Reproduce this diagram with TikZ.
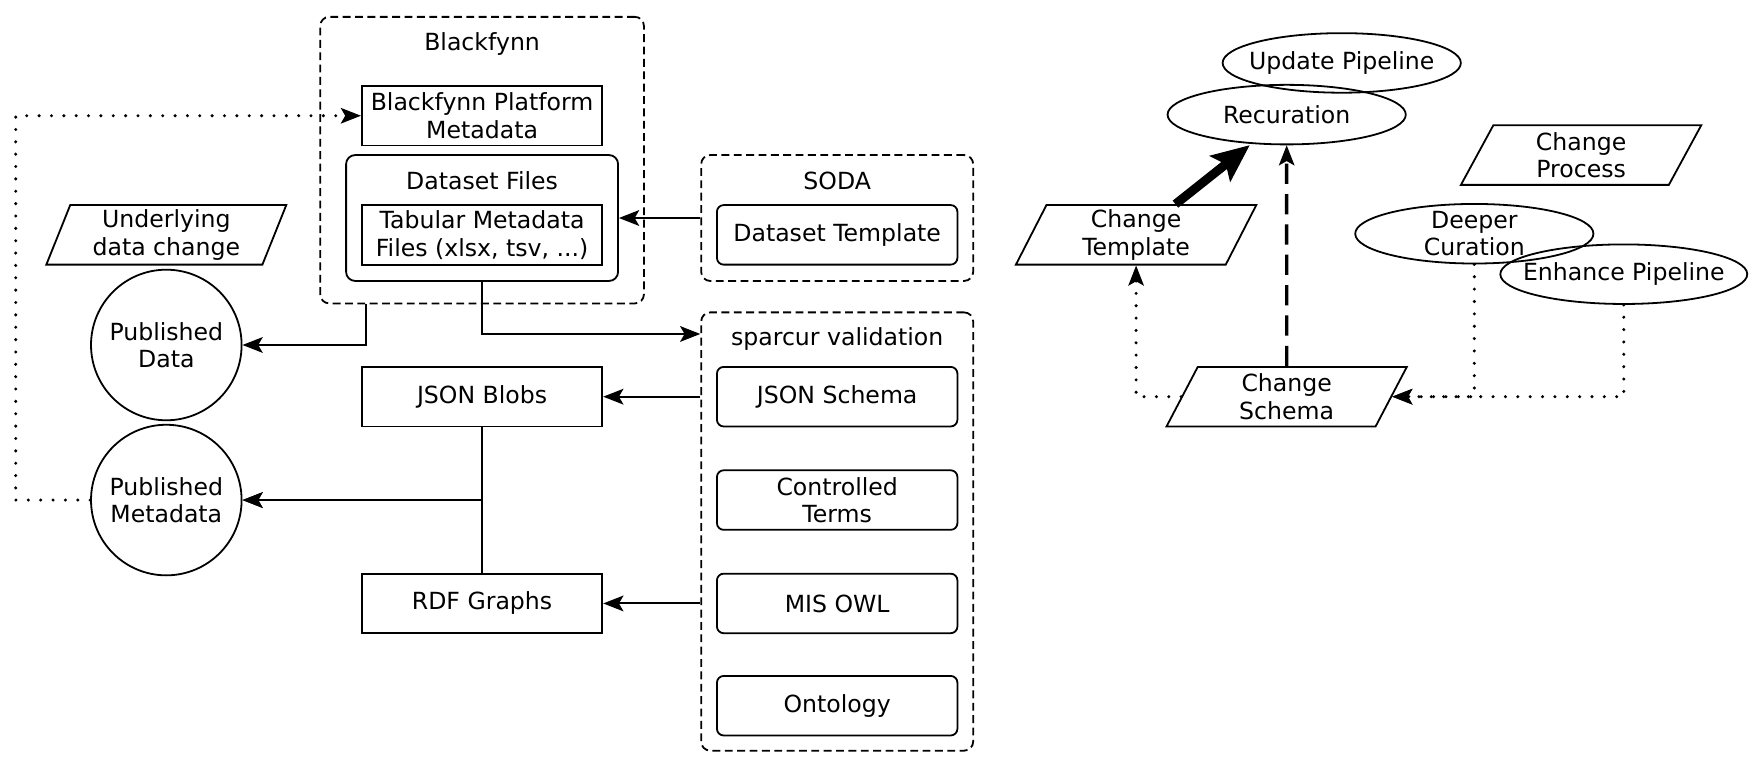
\documentclass[tikz,border=0pt]{standalone}
\usepackage{fontspec}
\setmainfont{DejaVu Sans}
\usetikzlibrary{arrows.meta,shapes.geometric}

\begin{document}
\begin{tikzpicture}[x=1pt,y=-1pt,
  every node/.style={font=\fontsize{21}{24.5}\selectfont, align=center, inner sep=0pt},
  box/.style={draw, line width=1.6pt, minimum width=214pt, minimum height=53pt},
  rbox/.style={box, rounded corners=6pt},
  cluster/.style={draw, line width=1.6pt, rounded corners=8pt, dash pattern=on 7pt off 4pt},
  para/.style={draw, line width=1.6pt, trapezium, trapezium left angle=70, trapezium right angle=110,
    trapezium stretches=true, minimum width=214pt, minimum height=53pt},
  oval/.style={draw, line width=1.6pt, ellipse, inner xsep=-8pt, inner ysep=-7pt,
    minimum width=212pt, minimum height=53pt},
  disc/.style={draw, line width=1.6pt, circle, minimum size=134pt},
  conn/.style={line width=1.7pt, -{Stealth[length=18pt,width=14pt,inset=4pt]}},
  dotline/.style={line width=3pt, line cap=round, dash pattern=on 0pt off 11pt,
    -{Stealth[length=18pt,width=14pt,inset=4pt,line width=1.2pt]}},
  fatarrow/.style={line width=8pt, -{Stealth[length=34pt,width=30pt,inset=7pt,line width=1pt]}},
  dasharrow/.style={line width=3pt, dash pattern=on 18pt off 9pt,
    -{Stealth[length=18pt,width=14pt,inset=4pt,line width=1pt]}}]
\useasboundingbox (0,0) rectangle (1568,685);

% Blackfynn
\node[cluster, minimum width=288pt, minimum height=255pt] (bf) at (429,142.5) {};
\node (bflabel) at (429,39) {Blackfynn};
\node[box] (bpm) at (429,103) {Blackfynn Platform\\Metadata};
\node[cluster, solid, minimum width=242pt, minimum height=112pt] (df) at (429,194) {};
\node (dflabel) at (429,161) {Dataset Files};
\node[box] (tmf) at (429,209) {Tabular Metadata\\Files (xlsx, tsv, ...)};

% SODA
\node[cluster, minimum width=242pt, minimum height=112pt] (soda) at (745,194) {};
\node (sodalabel) at (745,161) {SODA};
\node[rbox] (dt) at (745,209) {Dataset Template};

% sparcur
\node[cluster, minimum width=242pt, minimum height=390pt] (sv) at (745,473) {};
\node (svlabel) at (745,302) {sparcur validation};
\node[rbox] (js) at (745,353) {JSON Schema};
\node[rbox] (cterms) at (745,445) {Controlled\\Terms};
\node[rbox] (owl) at (745,537) {MIS OWL};
\node[rbox] (onto) at (745,628) {Ontology};

% outputs
\node[para] (udc) at (148,209) {Underlying\\data change};
\node[disc] (pd) at (148,307) {Published\\Data};
\node[disc] (pm) at (148,445) {Published\\Metadata};
\node[box] (jb) at (429,353) {JSON Blobs};
\node[box] (rdf) at (429,537) {RDF Graphs};
\coordinate (loopcorner) at (14,445);

% change process
\node[oval] (up) at (1194,56) {Update Pipeline};
\node[oval] (rec) at (1145,102) {Recuration};
\node[para] (cp) at (1407,138) {Change\\Process};
\node[para] (ct) at (1011,209) {Change\\Template};
\node[oval] (dc) at (1312,208) {Deeper\\Curation};
\node[oval, inner xsep=-12pt] (ep) at (1445,244) {Enhance Pipeline};
\node[para] (cs) at (1145,353) {Change\\Schema};

\draw[conn] (soda.west) -- (df.east);
\draw[conn] ([xshift=-103pt]bf.south) |- (pd.east);
\draw[conn] (df.south) |- ([yshift=-20pt]sv.north west);
\draw[conn] (jb.east -| sv.west) -- (jb.east);
\draw[conn] (rdf.east -| sv.west) -- (rdf.east);
\draw[conn] (jb.south) |- (pm.east);
\draw[conn] (rdf.north) |- (pm.east);
\draw[dotline] (pm.west) -- (loopcorner) |- (bpm.west);

\draw[fatarrow] ([xshift=35pt]ct.north) -- ([xshift=-33pt]rec.south);
\draw[dasharrow] (cs.north) -- (rec.south);
\draw[dotline] (cs.west) -| (ct.south);
\draw[dotline] (dc.south) |- (cs.east);
\draw[dotline] (ep.south) |- (cs.east);
\end{tikzpicture}
\end{document}
